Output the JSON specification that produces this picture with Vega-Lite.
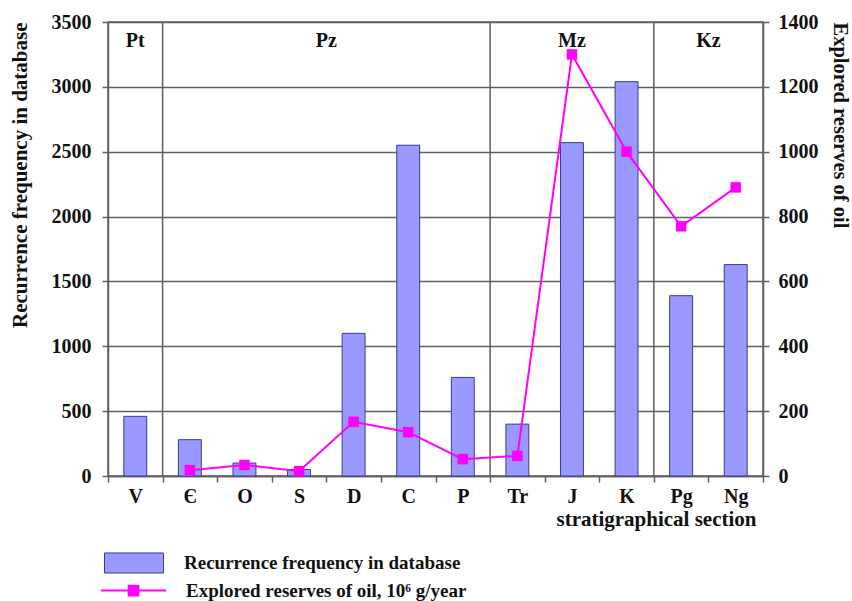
{
  "$schema": "https://vega.github.io/schema/vega-lite/v6.json",
  "width": 655,
  "height": 454,
  "autosize": {"type": "none"},
  "padding": {"left": 108, "top": 22, "right": 89, "bottom": 125},
  "background": "white",
  "config": {
    "font": "Liberation Serif",
    "view": {"stroke": "#606060", "strokeWidth": 1.5},
    "axis": {
      "labelFont": "Liberation Serif", "labelFontWeight": "bold", "labelFontSize": 20, "labelColor": "#111",
      "titleFont": "Liberation Serif", "titleFontWeight": "bold", "titleFontSize": 21, "titleColor": "#111",
      "domainColor": "#606060", "domainWidth": 1.5, "tickColor": "#606060", "tickWidth": 1.5, "tickSize": 6,
      "gridColor": "#606060", "gridWidth": 1.5, "gridOpacity": 1
    },
    "legend": {
      "labelFont": "Liberation Serif", "labelFontWeight": "bold", "labelFontSize": 19, "labelColor": "#111", "labelLimit": 500
    }
  },
  "datasets": {
    "sections": [
      {"section": "V", "freq": 460, "reserves": null},
      {"section": "Є", "freq": 280, "reserves": 18},
      {"section": "O", "freq": 100, "reserves": 34},
      {"section": "S", "freq": 50, "reserves": 15},
      {"section": "D", "freq": 1100, "reserves": 167},
      {"section": "C", "freq": 2550, "reserves": 135},
      {"section": "P", "freq": 760, "reserves": 52},
      {"section": "Tr", "freq": 400, "reserves": 62},
      {"section": "J", "freq": 2570, "reserves": 1300},
      {"section": "K", "freq": 3040, "reserves": 1000},
      {"section": "Pg", "freq": 1390, "reserves": 770},
      {"section": "Ng", "freq": 1630, "reserves": 890}
    ],
    "boundaries": [
      {"section": "Є"},
      {"section": "Tr"},
      {"section": "Pg"}
    ],
    "eras_mid": [
      {"era": "Pt", "section": "V"},
      {"era": "Mz", "section": "J"}
    ],
    "eras_edge": [
      {"era": "Pz", "section": "D"},
      {"era": "Kz", "section": "Ng"}
    ]
  },
  "layer": [
    {
      "layer": [
        {
          "data": {"name": "sections"},
          "mark": {"type": "bar", "width": {"band": 0.42}, "stroke": "#3c3c8c", "strokeWidth": 1},
          "encoding": {
            "x": {
              "field": "section", "type": "nominal", "sort": null,
              "scale": {"domain": ["V", "Є", "O", "S", "D", "C", "P", "Tr", "J", "K", "Pg", "Ng"], "paddingInner": 0, "paddingOuter": 0},
              "axis": {"title": "stratigraphical section", "titleX": 548, "titleAlign": "center", "titleAnchor": null, "titlePadding": 2, "labelAngle": 0, "labelPadding": 4, "tickBand": "extent", "grid": false}
            },
            "y": {
              "field": "freq", "type": "quantitative",
              "scale": {"domain": [0, 3500], "nice": false},
              "axis": {"title": "Recurrence frequency in database", "titleAnchor": "end", "titlePadding": 21, "format": "d", "values": [0, 500, 1000, 1500, 2000, 2500, 3000, 3500], "grid": true, "labelPadding": 11}
            },
            "fill": {
              "datum": "Recurrence frequency in database",
              "scale": {"range": ["#9999ff"]},
              "legend": {
                "title": null, "orient": "none", "legendX": -4, "legendY": 511,
                "symbolType": "M-1,-0.34H1V0.34H-1Z", "symbolSize": 3481,
                "symbolStrokeColor": "#3c3c8c", "symbolStrokeWidth": 1, "labelOffset": 20
              }
            }
          }
        },
        {
          "data": {"name": "boundaries"},
          "mark": {"type": "rule", "color": "#606060", "strokeWidth": 1.5},
          "encoding": {
            "x": {"field": "section", "type": "nominal", "bandPosition": 0}
          }
        },
        {
          "data": {"name": "eras_mid"},
          "mark": {"type": "text", "font": "Liberation Serif", "fontWeight": "bold", "fontSize": 20, "color": "#111", "baseline": "middle"},
          "encoding": {
            "x": {"field": "section", "type": "nominal", "bandPosition": 0.5},
            "y": {"datum": 3350, "type": "quantitative"},
            "text": {"field": "era"}
          }
        },
        {
          "data": {"name": "eras_edge"},
          "mark": {"type": "text", "font": "Liberation Serif", "fontWeight": "bold", "fontSize": 20, "color": "#111", "baseline": "middle"},
          "encoding": {
            "x": {"field": "section", "type": "nominal", "bandPosition": 0},
            "y": {"datum": 3350, "type": "quantitative"},
            "text": {"field": "era"}
          }
        }
      ]
    },
    {
      "data": {"name": "sections"},
      "transform": [{"filter": "datum.reserves != null"}],
      "layer": [
        {
          "mark": {"type": "line", "strokeWidth": 2},
          "encoding": {
            "x": {"field": "section", "type": "nominal", "sort": null},
            "y": {
              "field": "reserves", "type": "quantitative",
              "scale": {"domain": [0, 1400], "nice": false},
              "axis": {"orient": "right", "title": "Explored reserves of oil", "titleAngle": 90, "titleAnchor": null, "titleX": 76, "titleY": 0, "titleAlign": "left", "titleBaseline": "middle", "titleFontSize": 20.5, "format": "d", "values": [0, 200, 400, 600, 800, 1000, 1200, 1400], "grid": false, "labelPadding": 9}
            },
            "stroke": {
              "datum": "Explored reserves of oil, 10⁶ g/year",
              "scale": {"range": ["#ff00ff"]},
              "legend": {
                "title": null, "orient": "none", "legendX": -8, "legendY": 535,
                "symbolType": "M-1,0H1M-0.15,-0.15H0.15V0.15H-0.15Z", "symbolSize": 4225,
                "symbolStrokeWidth": 2, "labelOffset": 19,
                "encode": {"symbols": {"update": {"fill": {"value": "#ff00ff"}}}}
              }
            }
          }
        },
        {
          "mark": {"type": "point", "shape": "square", "filled": true, "size": 110, "color": "#ff00ff", "opacity": 1},
          "encoding": {
            "x": {"field": "section", "type": "nominal", "sort": null},
            "y": {"field": "reserves", "type": "quantitative"}
          }
        }
      ]
    }
  ],
  "resolve": {"scale": {"y": "independent", "fill": "independent", "stroke": "independent"}}
}
